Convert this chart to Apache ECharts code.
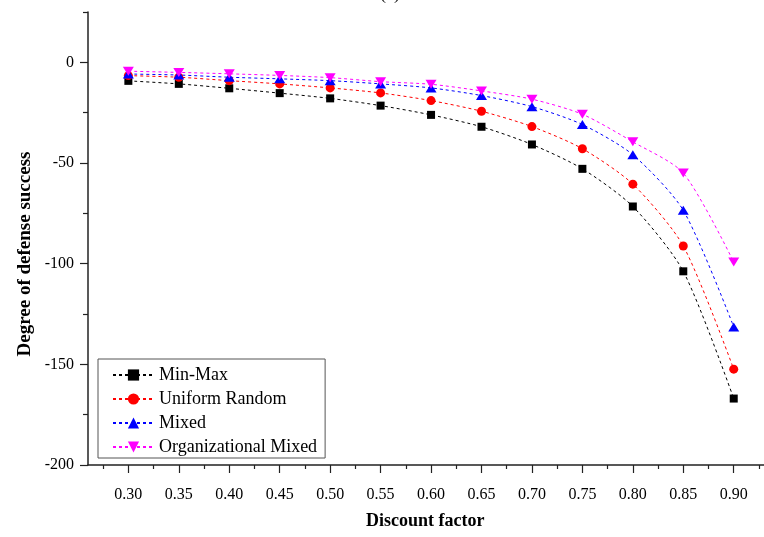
<!DOCTYPE html>
<html>
<head>
<meta charset="utf-8">
<script src="https://cdn.jsdelivr.net/npm/echarts@6/dist/echarts.min.js"></script>
<style>html,body{margin:0;padding:0;background:#fff;}#c{width:764px;height:537px;}</style>
</head>
<body>
<div id="c"></div>
<script>
const discount = [0.30, 0.35, 0.40, 0.45, 0.50, 0.55, 0.60, 0.65, 0.70, 0.75, 0.80, 0.85, 0.90];
const minorX = [0.275, 0.325, 0.375, 0.425, 0.475, 0.525, 0.575, 0.625, 0.675, 0.725, 0.775, 0.825, 0.875, 0.925];
const yMajor = [-200, -150, -100, -50, 0];
const yMinor = [-175, -125, -75, -25, 25];
const minMax = [-9.2, -10.7, -12.9, -15.3, -17.9, -21.5, -26.1, -32.0, -40.8, -52.9, -71.6, -103.8, -167.0];
const uniformRandom = [-6.6, -7.4, -9.1, -10.7, -12.7, -15.2, -19.0, -24.3, -31.9, -42.9, -60.5, -91.2, -152.4];
const mixed = [-5.8, -6.3, -7.4, -8.2, -9.1, -10.7, -12.7, -16.5, -22.0, -30.9, -45.9, -73.5, -131.4];
const orgMixed = [-4.4, -5.0, -5.7, -6.5, -7.6, -9.6, -10.9, -14.2, -18.3, -25.8, -39.5, -55.0, -99.2];
const names = ['Min-Max', 'Uniform Random', 'Mixed', 'Organizational Mixed'];

const serif = 'Liberation Serif';
const pair = arr => arr.map((v, i) => [discount[i], v]);
const axisCol = '#222';

function mk(name, data, color, symbol, size, rot) {
  return {
    name, type: 'line', data: pair(data), smooth: 0.25,
    symbol, symbolSize: size, symbolRotate: rot || 0,
    itemStyle: { color },
    lineStyle: { color, width: 1, type: [3, 3] },
    z: 3
  };
}

const chart = echarts.init(document.getElementById('c'));
chart.setOption({
  animation: false,
  backgroundColor: '#fff',
  grid: { left: 88, right: 0, top: 12, bottom: 72, containLabel: false },
  xAxis: [{
    type: 'value', min: 0.26, max: 0.93,
    axisLine: { show: true, onZero: false, lineStyle: { color: axisCol, width: 1.5 } },
    axisTick: { show: true, length: 8, customValues: discount, lineStyle: { color: axisCol, width: 1.2 } },
    axisLabel: { customValues: discount, margin: 22, formatter: v => v.toFixed(2), fontFamily: serif, fontSize: 16, color: '#000' },
    splitLine: { show: false }
  }, {
    type: 'value', min: 0.26, max: 0.93, position: 'bottom',
    axisLine: { show: false, onZero: false },
    axisTick: { show: true, length: 4, customValues: minorX, lineStyle: { color: axisCol, width: 1.2 } },
    axisLabel: { show: false },
    splitLine: { show: false }
  }],
  yAxis: [{
    type: 'value', min: -200, max: 25,
    axisLine: { show: true, onZero: false, lineStyle: { color: axisCol, width: 1.5 } },
    axisTick: { show: true, length: 8, customValues: yMajor, lineStyle: { color: axisCol, width: 1.2 } },
    axisLabel: { customValues: yMajor, margin: 14, fontFamily: serif, fontSize: 16, color: '#000' },
    splitLine: { show: false }
  }, {
    type: 'value', min: -200, max: 25, position: 'left',
    axisLine: { show: false, onZero: false },
    axisTick: { show: true, length: 5, customValues: yMinor, lineStyle: { color: axisCol, width: 1.2 } },
    axisLabel: { show: false },
    splitLine: { show: false }
  }],
  legend: {
    orient: 'vertical', left: 98, top: 359,
    data: names,
    backgroundColor: '#fff', borderColor: '#555', borderWidth: 1,
    padding: [7, 8, 2, 14],
    itemWidth: 41, itemHeight: 14, itemGap: 6,
    textStyle: { fontFamily: serif, fontSize: 18, lineHeight: 17, color: '#000' }
  },
  graphic: [
    { type: 'text', left: 380, top: -15, style: { text: '(a)', font: '18px "Liberation Serif"', fill: '#000' } },
    { type: 'text', left: 366, top: 512, style: { text: 'Discount factor', font: 'bold 18px "Liberation Serif"', fill: '#000' } },
    { type: 'text', x: 25, y: 254, rotation: Math.PI / 2,
      style: { text: 'Degree of defense success', font: 'bold 19px "Liberation Serif"', fill: '#000', align: 'center', verticalAlign: 'middle' } }
  ],
  series: [
    mk(names[0], minMax, '#000000', 'rect', 8),
    mk(names[1], uniformRandom, '#ff0000', 'circle', 9),
    mk(names[2], mixed, '#0000ff', 'triangle', [11, 9]),
    mk(names[3], orgMixed, '#ff00ff', 'triangle', [11, 9], 180)
  ]
});
</script>
</body>
</html>
